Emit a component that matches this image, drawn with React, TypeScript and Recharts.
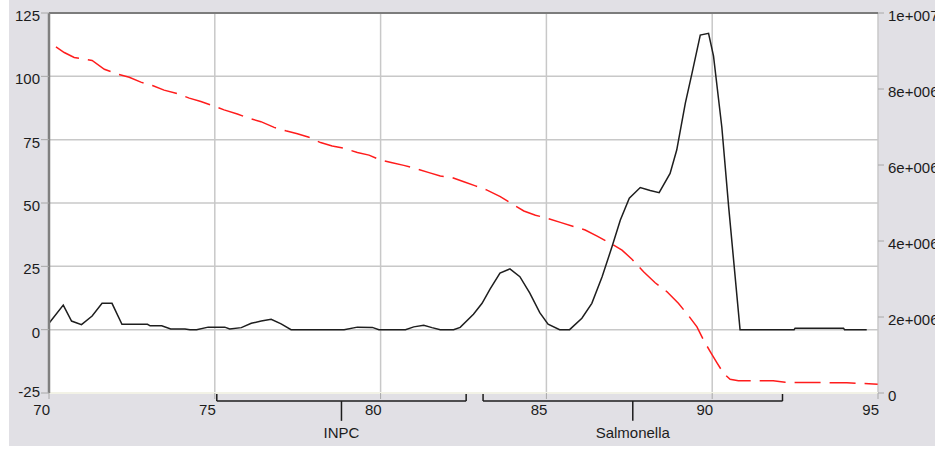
import React from 'react';
import { LineChart, Line, XAxis, YAxis, CartesianGrid, ReferenceLine, ReferenceDot } from 'recharts';

// melt curve: black = -dF/dT (left axis), red = raw fluorescence (right axis)
const derivTemp = [
  70.0, 70.43, 70.68, 70.98, 71.3, 71.6, 71.9, 72.2, 72.97, 73.05, 73.4, 73.67, 74.1, 74.25, 74.45, 74.8,
  75.3, 75.45, 75.8, 76.1, 76.4, 76.7, 77.0, 77.3, 78.9, 79.3, 79.75, 79.95, 80.75, 81.0, 81.3, 81.55,
  81.8, 82.2, 82.4, 82.8, 83.06, 83.3, 83.6, 83.9, 84.2, 84.5, 84.8, 85.05, 85.4, 85.7, 86.07, 86.37,
  86.68, 86.98, 87.23, 87.5, 87.83, 88.13, 88.4, 88.73, 88.93, 89.19, 89.39, 89.64, 89.89, 90.04, 90.29,
  90.5, 90.84, 92.47, 92.5, 93.96, 93.99, 94.66,
];
const derivValue = [
  2.5, 9.7, 3.4, 2.0, 5.4, 10.4, 10.4, 2.1, 2.1, 1.5, 1.5, 0.3, 0.3, 0, 0, 1.0,
  1.0, 0.3, 0.8, 2.5, 3.4, 4.1, 2.3, 0, 0, 1.0, 0.9, 0, 0, 1.1, 1.7, 0.8,
  0, 0, 0.9, 6.1, 10.4, 16, 22.3, 24, 20.9, 14.4, 6.7, 2.2, 0, 0, 4.5, 10.4,
  20.9, 32.8, 43.3, 51.9, 56.1, 54.9, 54.1, 61.7, 70.9, 89.4, 101.2, 116.3, 117.0, 108, 80,
  48, 0, 0, 0.6, 0.6, 0, 0,
];

const fluorTemp = [
  70.21, 70.46, 70.76, 70.96, 71.3, 71.67, 72.07, 72.42, 72.77, 73.12, 73.47, 73.83, 74.23, 74.58, 74.98,
  75.28, 75.68, 76.03, 76.39, 76.79, 77.14, 77.49, 77.84, 78.19, 78.54, 78.9, 79.3, 79.65, 80.0, 80.35,
  80.7, 81.05, 81.46, 81.8, 82.16, 82.51, 82.86, 83.21, 83.61, 83.97, 84.32, 84.67, 85.02, 85.42, 85.82,
  86.17, 86.53, 86.93, 87.28, 87.58, 87.93, 88.28, 88.63, 88.98, 89.29, 89.54, 89.74, 89.94, 90.14, 90.34,
  90.54, 90.79, 91.84, 92.2, 94.06, 94.99,
];
const fluorValue = [
  9.11e6, 8.96e6, 8.83e6, 8.8e6, 8.75e6, 8.52e6, 8.39e6, 8.31e6, 8.18e6, 8.09e6, 7.97e6, 7.89e6, 7.76e6, 7.67e6, 7.55e6,
  7.45e6, 7.34e6, 7.23e6, 7.14e6, 6.99e6, 6.9e6, 6.82e6, 6.73e6, 6.59e6, 6.5e6, 6.44e6, 6.33e6, 6.26e6, 6.13e6, 6.06e6,
  5.99e6, 5.91e6, 5.8e6, 5.71e6, 5.67e6, 5.56e6, 5.45e6, 5.34e6, 5.17e6, 4.97e6, 4.79e6, 4.68e6, 4.6e6, 4.49e6, 4.38e6,
  4.29e6, 4.13e6, 3.94e6, 3.76e6, 3.52e6, 3.19e6, 2.9e6, 2.67e6, 2.36e6, 2.03e6, 1.74e6, 1.39e6, 1.09e6, 0.8e6, 0.52e6,
  0.36e6, 0.32e6, 0.32e6, 0.28e6, 0.27e6, 0.23e6,
];

const xTicks = [70, 75, 80, 85, 90, 95];
const leftTicks = [-25, 0, 25, 50, 75, 100, 125];
const rightTicks = [0, 2e6, 4e6, 6e6, 8e6, 1e7];
const rightTickLabels = ['0', '2e+006', '4e+006', '6e+006', '8e+006', '1e+007'];

// peak brackets under the x axis
const peakNames = ['INPC', 'Salmonella'];
const peakStart = [75.06, 83.09];
const peakEnd = [82.58, 92.12];

const derivData = derivTemp.map((t, i) => ({ t, v: derivValue[i] }));
const fluorData = fluorTemp.map((t, i) => ({ t, f: fluorValue[i] }));

const TEXT = '#1c1c1c';
const GRID = '#c8c8c8';

const XTick = ({ x, y, payload }: any) => (
  <text x={x + 1} y={y} dy={14} textAnchor="end" fontSize={15} fill={TEXT}>
    {payload.value}
  </text>
);

const LeftTick = ({ x, y, payload }: any) => (
  <text x={x} y={y} dy={payload.value === -25 ? 4 : 8} textAnchor="end" fontSize={15} fill={TEXT}>
    {payload.value}
  </text>
);

const RightTick = ({ x, y, payload }: any) => (
  <text x={x} y={y} dy={8} textAnchor="start" fontSize={15} fill={TEXT}>
    {rightTickLabels[rightTicks.indexOf(payload.value)]}
  </text>
);

// bracket levels, in left-axis units
const BRACKET_Y = -28.2;
const STEM_Y = -36;
const LABEL_Y = -40.8;

export default function App() {
  return (
    <div
      style={{
        position: 'absolute',
        left: 9,
        top: 0,
        width: 926,
        height: 446,
        background: '#e1e0e5',
        fontFamily: '"Liberation Sans", Arial, sans-serif',
      }}
    >
      <LineChart width={926} height={446} margin={{ top: 13, right: 0, bottom: 0, left: 0 }}>
        <CartesianGrid yAxisId="left" fill="#ffffff" stroke={GRID} strokeWidth={1.5} />
        <XAxis
          dataKey="t"
          type="number"
          domain={[70, 95]}
          ticks={xTicks}
          allowDataOverflow
          height={53}
          tickSize={6}
          tickMargin={2}
          tickLine={{ stroke: '#a8a8a8' }}
          axisLine={{ stroke: '#f2f2e6', strokeWidth: 2 }}
          tick={<XTick />}
        />
        <YAxis
          yAxisId="left"
          domain={[-25, 125]}
          ticks={leftTicks}
          allowDataOverflow
          width={40}
          tickSize={8}
          tickMargin={1}
          tickLine={{ stroke: '#a8a8a8' }}
          axisLine={{ stroke: '#808080', strokeWidth: 2.5 }}
          tick={<LeftTick />}
        />
        <YAxis
          yAxisId="right"
          orientation="right"
          domain={[0, 1e7]}
          ticks={rightTicks}
          allowDataOverflow
          width={57}
          tickSize={6}
          tickMargin={4}
          tickLine={{ stroke: '#a8a8a8' }}
          axisLine={false}
          tick={<RightTick />}
        />
        <ReferenceLine yAxisId="left" y={125} stroke="#7c7c7c" strokeWidth={2} />

        {peakNames.map((name, i) => {
          const mid = (peakStart[i] + peakEnd[i]) / 2;
          return (
            <React.Fragment key={name}>
              <ReferenceLine
                yAxisId="left"
                ifOverflow="visible"
                stroke={TEXT}
                strokeWidth={1.5}
                segment={[
                  { x: peakStart[i], y: -25 },
                  { x: peakStart[i], y: BRACKET_Y },
                ]}
              />
              <ReferenceLine
                yAxisId="left"
                ifOverflow="visible"
                stroke={TEXT}
                strokeWidth={1.5}
                segment={[
                  { x: peakStart[i], y: BRACKET_Y },
                  { x: peakEnd[i], y: BRACKET_Y },
                ]}
              />
              <ReferenceLine
                yAxisId="left"
                ifOverflow="visible"
                stroke={TEXT}
                strokeWidth={1.5}
                segment={[
                  { x: peakEnd[i], y: BRACKET_Y },
                  { x: peakEnd[i], y: -25 },
                ]}
              />
              <ReferenceLine
                yAxisId="left"
                ifOverflow="visible"
                stroke={TEXT}
                strokeWidth={1.5}
                segment={[
                  { x: mid, y: BRACKET_Y },
                  { x: mid, y: STEM_Y },
                ]}
              />
              <ReferenceDot
                yAxisId="left"
                x={mid}
                y={LABEL_Y}
                r={1}
                fill="none"
                stroke="none"
                ifOverflow="visible"
                label={{ value: name, position: 'center', fill: TEXT, fontSize: 15 }}
              />
            </React.Fragment>
          );
        })}

        <Line
          yAxisId="right"
          data={fluorData}
          dataKey="f"
          type="linear"
          stroke="#ff1c1c"
          strokeWidth={1.5}
          strokeDasharray="26 9"
          dot={false}
          isAnimationActive={false}
        />
        <Line
          yAxisId="left"
          data={derivData}
          dataKey="v"
          type="linear"
          stroke="#1e1e1e"
          strokeWidth={1.5}
          dot={false}
          isAnimationActive={false}
        />
      </LineChart>
    </div>
  );
}
